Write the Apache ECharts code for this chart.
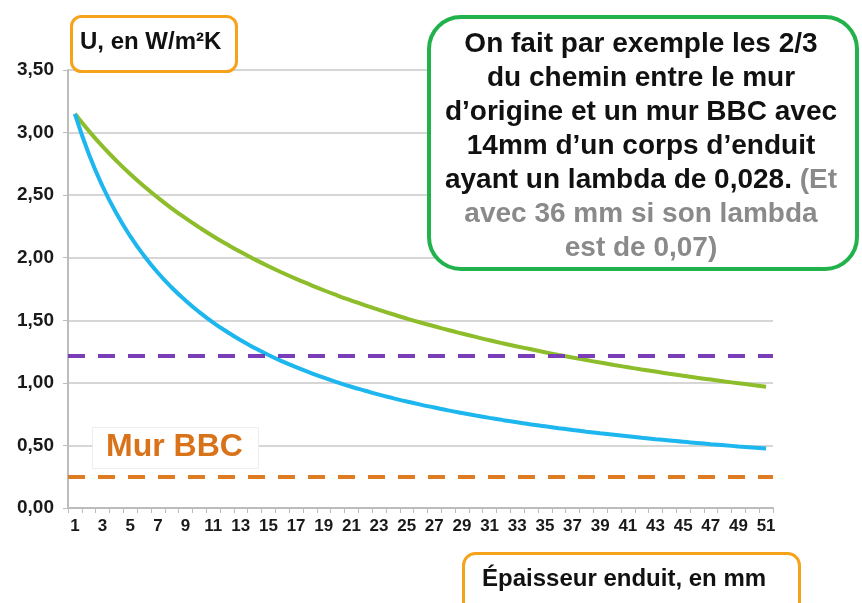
<!DOCTYPE html>
<html>
<head>
<meta charset="utf-8">
<script src="https://cdn.jsdelivr.net/npm/echarts@6/dist/echarts.min.js"></script>
<style>
  html, body { margin: 0; padding: 0; background: #fff; }
  #chart { width: 862px; height: 603px; }
</style>
</head>
<body>
<div id="chart"></div>
<script>
// epaisseur d'enduit (1 = 0 mm ... 51 = 50 mm)
const categories = [];
for (let i = 1; i <= 51; i++) categories.push(String(i));

// U du mur avec enduit lambda 0,028 (courbe bleue)
const uLambda028 = [3.150, 2.831, 2.571, 2.355, 2.172, 2.016, 1.880, 1.762, 1.658, 1.565,
  1.482, 1.408, 1.340, 1.279, 1.223, 1.172, 1.125, 1.082, 1.041, 1.004,
  0.969, 0.937, 0.906, 0.878, 0.851, 0.826, 0.803, 0.780, 0.759, 0.739,
  0.720, 0.702, 0.685, 0.668, 0.653, 0.638, 0.624, 0.610, 0.597, 0.585,
  0.573, 0.561, 0.550, 0.540, 0.529, 0.520, 0.510, 0.501, 0.492, 0.484, 0.475];

// U du mur avec enduit lambda 0,07 (courbe verte)
const uLambda07 = [3.150, 3.014, 2.889, 2.775, 2.669, 2.571, 2.480, 2.395, 2.316, 2.242,
  2.172, 2.107, 2.045, 1.987, 1.932, 1.880, 1.831, 1.785, 1.740, 1.698,
  1.658, 1.619, 1.583, 1.548, 1.514, 1.482, 1.452, 1.422, 1.394, 1.367,
  1.340, 1.315, 1.291, 1.268, 1.245, 1.223, 1.202, 1.182, 1.162, 1.143,
  1.125, 1.107, 1.090, 1.073, 1.057, 1.041, 1.026, 1.011, 0.997, 0.983, 0.969];

const uCible = 1.22;   // 2/3 du chemin (ligne violette)
const uMurBBC = 0.25;  // mur BBC (ligne orange)

const FONT = '"Liberation Sans", Arial, sans-serif';

const chart = echarts.init(document.getElementById('chart'));

const option = {
  backgroundColor: '#fff',
  animation: false,
  grid: { left: 68, right: 89, top: 70, bottom: 95 },
  xAxis: {
    type: 'category',
    data: categories,
    boundaryGap: true,
    axisLine: { lineStyle: { color: '#bcbcbc', width: 2 } },
    axisTick: { show: true, interval: 0, length: 5, lineStyle: { color: '#bcbcbc' } },
    axisLabel: { interval: 1, color: '#1a1a1a', fontFamily: FONT, fontWeight: 'bold', fontSize: 17, margin: 10 },
    splitLine: { show: false }
  },
  yAxis: {
    type: 'value',
    min: 0,
    max: 3.5,
    interval: 0.5,
    axisLine: { show: true, lineStyle: { color: '#bcbcbc', width: 2 } },
    axisTick: { show: true, length: 5, lineStyle: { color: '#bcbcbc' } },
    axisLabel: {
      color: '#1a1a1a', fontFamily: FONT, fontWeight: 'bold', fontSize: 19, margin: 14,
      formatter: v => v.toFixed(2).replace('.', ',')
    },
    splitLine: { lineStyle: { color: '#c8c8c8', width: 1.5 } }
  },
  series: [
    {
      name: 'lambda 0,028',
      type: 'line',
      data: uLambda028,
      showSymbol: false,
      smooth: true,
      z: 4,
      lineStyle: { color: '#1db6ee', width: 4 },
      markLine: {
        silent: true,
        symbol: 'none',
        label: { show: false },
        data: [
          { yAxis: uCible, lineStyle: { color: '#7a3db8', type: [17, 13], width: 4 } },
          { yAxis: uMurBBC, lineStyle: { color: '#df7b22', type: [17, 13], width: 4 } }
        ]
      }
    },
    {
      name: 'lambda 0,07',
      type: 'line',
      data: uLambda07,
      showSymbol: false,
      smooth: true,
      z: 3,
      lineStyle: { color: '#8dbd2a', width: 4 }
    }
  ],
  graphic: [
    // titre axe Y
    {
      type: 'rect', left: 70, top: 15, z: 10,
      shape: { width: 165, height: 55, r: 10 },
      style: { fill: '#fff', stroke: '#f7a21b', lineWidth: 3 }
    },
    {
      type: 'text', left: 80, top: 30, z: 11,
      style: { text: 'U, en W/m²K', font: 'bold 24px ' + FONT, fill: '#111' }
    },
    // titre axe X
    {
      type: 'rect', left: 462, top: 552, z: 10,
      shape: { width: 336, height: 70, r: 12 },
      style: { fill: '#fff', stroke: '#f7a21b', lineWidth: 3 }
    },
    {
      type: 'text', left: 482, top: 567, z: 11,
      style: { text: 'Épaisseur enduit, en mm', font: 'bold 24px ' + FONT, fill: '#111' }
    },
    // Mur BBC
    {
      type: 'rect', left: 92, top: 427, z: 10,
      shape: { width: 166, height: 41 },
      style: { fill: '#fff', stroke: '#eeeeee', lineWidth: 1 }
    },
    {
      type: 'text', left: 106, top: 431, z: 11,
      style: { text: 'Mur BBC', font: 'bold 32px ' + FONT, fill: '#d9731a' }
    },
    // encadre vert
    {
      type: 'rect', left: 427, top: 15, z: 10,
      shape: { width: 428, height: 252, r: 32 },
      style: { fill: '#fff', stroke: '#22b24c', lineWidth: 4 }
    },
    {
      type: 'text', x: 641, y: 146, z: 11,
      style: {
        text: '{b|On fait par exemple les 2/3}\n{b|du chemin entre le mur}\n{b|d’origine et un mur BBC avec}\n{b|14mm d’un corps d’enduit}\n{b|ayant un lambda de 0,028.}{g| (Et}\n{g|avec 36 mm si son lambda}\n{g|est de 0,07)}',
        align: 'center',
        verticalAlign: 'middle',
        rich: {
          b: { font: 'bold 28px ' + FONT, fill: '#111', lineHeight: 34 },
          g: { font: 'bold 28px ' + FONT, fill: '#8a8a8a', lineHeight: 34 }
        }
      }
    }
  ]
};

chart.setOption(option);
</script>
</body>
</html>
